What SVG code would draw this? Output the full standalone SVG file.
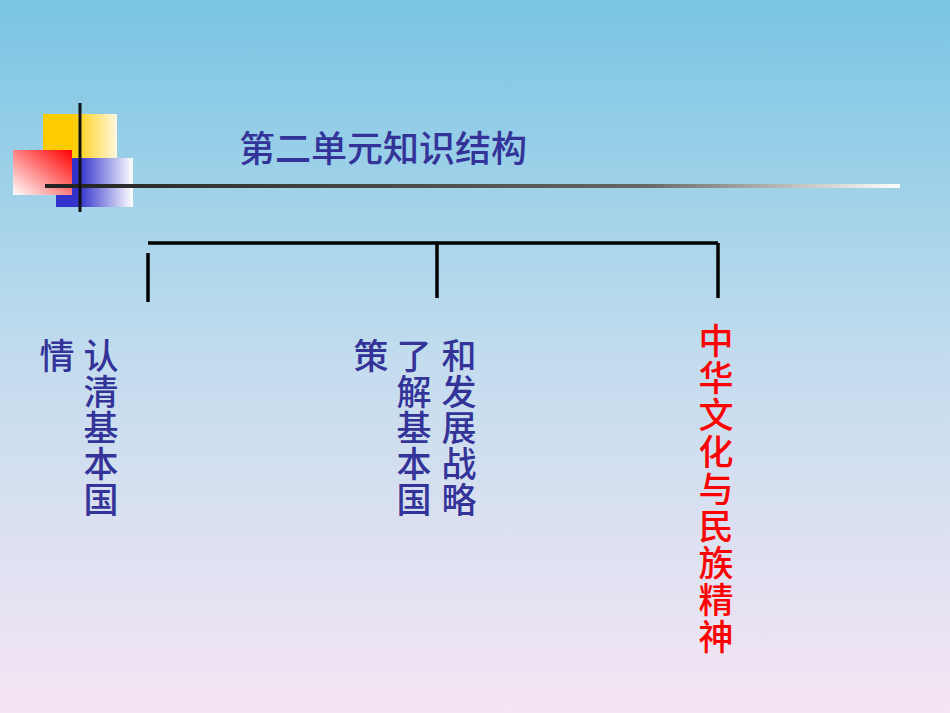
<svg xmlns="http://www.w3.org/2000/svg" width="950" height="713" viewBox="0 0 950 713">
<defs>
<linearGradient id="bg" x1="0" y1="0" x2="0" y2="1"><stop offset="0" stop-color="#79c5e3"/><stop offset="0.5" stop-color="#c2dcee"/><stop offset="1" stop-color="#f6e5f4"/></linearGradient>
<linearGradient id="yel" x1="0" y1="0" x2="1" y2="0"><stop offset="0.4" stop-color="#ffcc00"/><stop offset="1" stop-color="#fff8e0"/></linearGradient>
<linearGradient id="blu" x1="0" y1="0" x2="1" y2="0"><stop offset="0.3" stop-color="#3333cc"/><stop offset="1" stop-color="#ffffff"/></linearGradient>
<linearGradient id="red" x1="1" y1="0" x2="0" y2="1"><stop offset="0" stop-color="#ff0000"/><stop offset="1" stop-color="#ffffff"/></linearGradient>
<linearGradient id="hl" gradientUnits="userSpaceOnUse" x1="45" y1="0" x2="900" y2="0"><stop offset="0" stop-color="#222"/><stop offset="0.7" stop-color="#666"/><stop offset="1" stop-color="#ffffff"/></linearGradient>
</defs>
<style>
.t{font-family:"Noto Sans CJK SC","Liberation Sans",sans-serif;font-size:35px;font-weight:500;fill:#333399;text-anchor:middle}
.r{fill:#ff0000}
.k{stroke:#000;stroke-width:3.5;fill:none}
</style>
<rect width="950" height="713" fill="url(#bg)"/>
<g id="logo">
<rect x="43" y="114" width="74" height="44" fill="url(#yel)"/>
<rect x="56" y="158" width="77" height="49" fill="url(#blu)"/>
<rect x="13" y="150" width="59" height="45" fill="url(#red)"/>
<rect x="45" y="184" width="855" height="4" fill="url(#hl)"/>
<line x1="80" y1="103" x2="80" y2="212" stroke="#111" stroke-width="3"/>
</g>
<g id="title"><text x="383" y="162" class="t" style="font-size:36px">第二单元知识结构</text></g>
<g id="connectors">
<path class="k" d="M148 243H718M148 253V302M437 243V298M718 243V298"/>
</g>
<g id="n1">
<text class="t" x="57" y="369">情</text>
<text class="t"><tspan x="101" y="369">认</tspan><tspan x="101" y="405">清</tspan><tspan x="101" y="441">基</tspan><tspan x="101" y="477">本</tspan><tspan x="101" y="513">国</tspan></text>
</g>
<g id="n2">
<text class="t" x="371" y="369">策</text>
<text class="t"><tspan x="414" y="369">了</tspan><tspan x="414" y="405">解</tspan><tspan x="414" y="441">基</tspan><tspan x="414" y="477">本</tspan><tspan x="414" y="513">国</tspan></text>
<text class="t"><tspan x="459" y="369">和</tspan><tspan x="459" y="405">发</tspan><tspan x="459" y="441">展</tspan><tspan x="459" y="477">战</tspan><tspan x="459" y="513">略</tspan></text>
</g>
<g id="n3">
<text class="t r"><tspan x="716" y="354">中</tspan><tspan x="716" y="391">华</tspan><tspan x="716" y="428">文</tspan><tspan x="716" y="465">化</tspan><tspan x="716" y="502">与</tspan><tspan x="716" y="539">民</tspan><tspan x="716" y="576">族</tspan><tspan x="716" y="613">精</tspan><tspan x="716" y="650">神</tspan></text>
</g>
</svg>
